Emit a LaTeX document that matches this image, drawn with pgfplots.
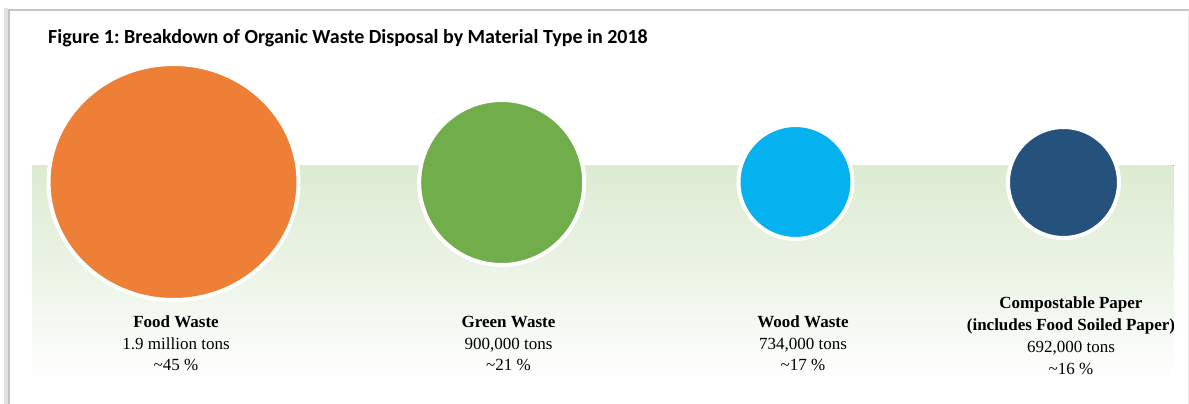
\documentclass[border=0pt]{standalone}
\usepackage{pgfplots}
\pgfplotsset{compat=1.18}
\usepackage{fontspec}
\setmainfont{Liberation Serif}
\newfontfamily\titlefont{Carlito}
\definecolor{foodc}{HTML}{ED7F36}
\definecolor{greenc}{HTML}{71AD4A}
\definecolor{woodc}{HTML}{05B1EF}
\definecolor{paperc}{HTML}{24527D}
\definecolor{band}{HTML}{DCEBD2}
\definecolor{frame}{HTML}{C4C4C4}
\frenchspacing
\begin{document}
\begin{tikzpicture}
\useasboundingbox (0,0) rectangle (1189bp,404bp);
\begin{axis}[at={(0,0)}, anchor=south west, width=1189bp, height=404bp,
  scale only axis, xmin=0, xmax=1189, ymin=0, ymax=404, y dir=reverse,
  hide axis, clip=false]
% frame
\draw[frame!50, line width=3bp] (axis cs:6,404) -- (axis cs:6,8);
\draw[frame, line width=1.6bp] (axis cs:9,404) -- (axis cs:9,10) -- (axis cs:1189,10);
\draw[frame!40, line width=1bp] (axis cs:1188,10) -- (axis cs:1188,404);
% background band
\fill[top color=band, bottom color=white, middle color=band!55] (axis cs:32.5,165) rectangle (axis cs:1173.5,381);
% title
\node[anchor=base west, inner sep=0, font=\titlefont\bfseries\fontsize{20bp}{23bp}\selectfont]
  at (axis cs:48,43) {Figure 1: Breakdown of Organic Waste Disposal by Material Type in 2018};
% bubbles
\addplot[only marks, mark=*, mark size=118bp, mark options={fill=foodc, draw=white, line width=4bp, xscale=1.059}]
  coordinates {(173.5,182)};
\addplot[only marks, mark=*, mark size=82.5bp, mark options={fill=greenc, draw=white, line width=4bp}]
  coordinates {(501.7,182.5)};
\addplot[only marks, mark=*, mark size=57bp, mark options={fill=woodc, draw=white, line width=4bp}]
  coordinates {(795.5,182)};
\addplot[only marks, mark=*, mark size=55.5bp, mark options={fill=paperc, draw=white, line width=4bp}]
  coordinates {(1063.5,182.5)};
% labels
\tikzset{lab/.style={anchor=base, inner sep=0, font=\fontsize{17bp}{21bp}\selectfont},
         labb/.style={lab, font=\bfseries\fontsize{17bp}{21bp}\selectfont}}
\node[labb] at (axis cs:176,327) {Food Waste};
\node[lab]  at (axis cs:176,349) {1.9 million tons};
\node[lab]  at (axis cs:176,370.5) {\textasciitilde45 \%};
\node[labb] at (axis cs:508.5,327) {Green Waste};
\node[lab]  at (axis cs:508.5,349) {900,000 tons};
\node[lab]  at (axis cs:508.5,370.5) {\textasciitilde21 \%};
\node[labb] at (axis cs:803,327) {Wood Waste};
\node[lab]  at (axis cs:803,349) {734,000 tons};
\node[lab]  at (axis cs:803,370.5) {\textasciitilde17 \%};
\node[labb] at (axis cs:1071,308.5) {Compostable Paper};
\begin{scope}
\clip (axis cs:900,300) rectangle (axis cs:1173,345);
\node[labb] at (axis cs:1071,330) {(includes Food Soiled Paper)};
\end{scope}
\node[lab]  at (axis cs:1071,352) {692,000 tons};
\node[lab]  at (axis cs:1071,374) {\textasciitilde16 \%};
\end{axis}
\end{tikzpicture}
\end{document}
